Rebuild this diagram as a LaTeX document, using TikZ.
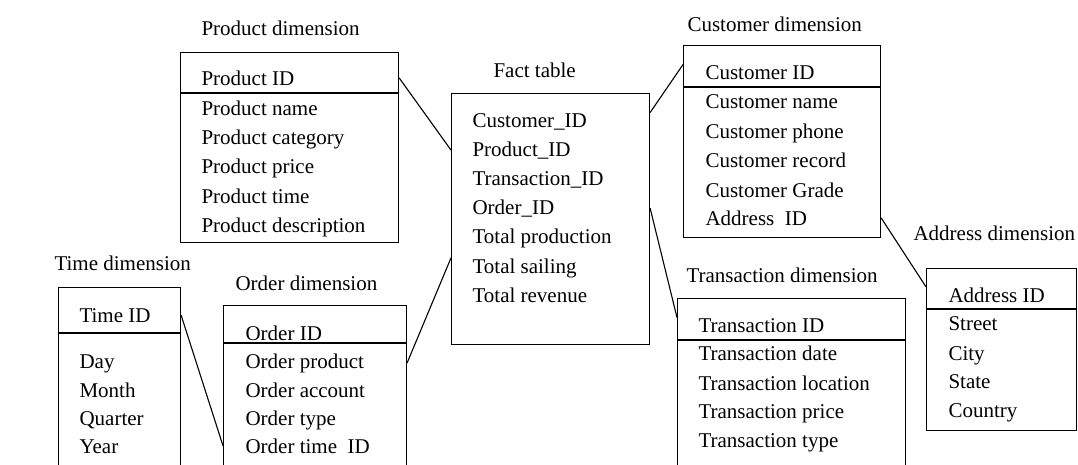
\documentclass[tikz,border=0pt]{standalone}
\usepackage{fontspec}
\setmainfont{Liberation Serif}
\usepackage{tikz}

\begin{document}
\begin{tikzpicture}[x=1pt,y=-1pt,line width=1.1pt,
    every node/.style={font=\fontsize{21}{24}\selectfont},
    row/.style={anchor=base west,inner sep=0pt},
    tbl/.style={draw,anchor=north west,inner sep=0pt}]
    \useasboundingbox (0,0) rectangle (1078,464);
    \clip (0,0) rectangle (1078,464);

    \node[tbl,minimum width=218pt,minimum height=190pt] (prod) at (180,52) {};
    \draw ([yshift=-41pt]prod.north west) -- ([yshift=-41pt]prod.north east);
    \node[row] (ptitle) at (201,35) {Product dimension};
    \node[row] (pid) at (201,85) {Product ID};
    \node[row] (pname) at (201,115) {Product name};
    \node[row] (pcat) at (201,144) {Product category};
    \node[row] (pprice) at (201,173) {Product price};
    \node[row] (ptime) at (201,203) {Product time};
    \node[row] (pdesc) at (201,232) {Product description};

    \node[tbl,minimum width=198pt,minimum height=251pt] (fact) at (451,93) {};
    \node[row] (ftitle) at (493,77) {Fact table};
    \node[row] (fcid) at (472,127) {Customer\_ID};
    \node[row] (fpid) at (472,156) {Product\_ID};
    \node[row] (ftid) at (472,185) {Transaction\_ID};
    \node[row] (foid) at (472,214) {Order\_ID};
    \node[row] (ftp) at (472,243) {Total production};
    \node[row] (fts) at (472,273) {Total sailing};
    \node[row] (ftr) at (472,302) {Total revenue};

    \node[tbl,minimum width=197pt,minimum height=192pt] (cust) at (683,45) {};
    \draw ([yshift=-42pt]cust.north west) -- ([yshift=-42pt]cust.north east);
    \node[row] (ctitle) at (687,31) {Customer dimension};
    \node[row] (cid) at (705,79) {Customer ID};
    \node[row] (cname) at (705,108) {Customer name};
    \node[row] (cphone) at (705,138) {Customer phone};
    \node[row] (crec) at (705,167) {Customer record};
    \node[row] (cgrade) at (705,197) {Customer Grade};
    \node[row] (aid) at (705,225) {Address\ \ ID};

    \node[tbl,minimum width=150pt,minimum height=162pt] (addr) at (926,268) {};
    \draw ([yshift=-41pt]addr.north west) -- ([yshift=-41pt]addr.north east);
    \node[row] (atitle) at (913,240) {Address dimension};
    \node[row] (aaid) at (948,302) {Address ID};
    \node[row] (astreet) at (948,330) {Street};
    \node[row] (acity) at (948,360) {City};
    \node[row] (astate) at (948,388) {State};
    \node[row] (acountry) at (948,417) {Country};

    \node[tbl,minimum width=228pt,minimum height=190pt] (trans) at (677,298) {};
    \draw ([yshift=-42pt]trans.north west) -- ([yshift=-42pt]trans.north east);
    \node[row] (ttitle) at (686,282) {Transaction dimension};
    \node[row] (tid) at (698,332) {Transaction ID};
    \node[row] (tdate) at (698,360) {Transaction date};
    \node[row] (tloc) at (698,390) {Transaction location};
    \node[row] (tprice) at (698,418) {Transaction price};
    \node[row] (ttype) at (698,447) {Transaction type};

    \node[tbl,minimum width=122pt,minimum height=200pt] (time) at (58,287) {};
    \draw ([yshift=-46pt]time.north west) -- ([yshift=-46pt]time.north east);
    \node[row] (mtitle) at (54,270) {Time dimension};
    \node[row] (mid) at (79,322) {Time ID};
    \node[row] (mday) at (79,368) {Day};
    \node[row] (mmonth) at (79,397) {Month};
    \node[row] (mquarter) at (79,425) {Quarter};
    \node[row] (myear) at (79,453) {Year};

    \node[tbl,minimum width=183pt,minimum height=190pt] (ord) at (223,305) {};
    \draw ([yshift=-38pt]ord.north west) -- ([yshift=-38pt]ord.north east);
    \node[row] (otitle) at (235,290) {Order dimension};
    \node[row] (oid) at (245,340) {Order ID};
    \node[row] (oprod) at (245,368) {Order product};
    \node[row] (oacc) at (245,397) {Order account};
    \node[row] (otype) at (245,425) {Order type};
    \node[row] (otid) at (245,453) {Order time\ \ ID};

    \draw[-] (prod.east |- pid) to (fact.west |- fpid);
    \draw[-] (fact.east |- fcid.north) to (cust.west |- cid.north);
    \draw[-] (fact.east |- foid) to (trans.west |- tid.north);
    \draw[-] (ord.east |- oprod) to (fact.west |- fts.north);
    \draw[-] (time.east |- mid) to (ord.west |- otid);
    \draw[-] (cust.east |- aid) to (addr.west |- aaid.north);
\end{tikzpicture}
\end{document}
